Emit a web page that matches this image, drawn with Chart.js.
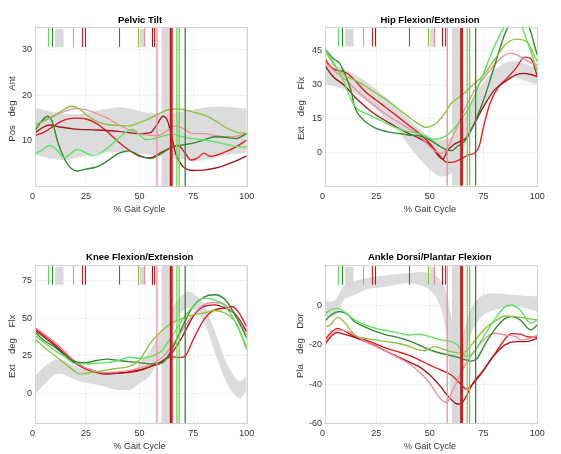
<!DOCTYPE html>
<html><head><meta charset="utf-8">
<script src="https://cdn.jsdelivr.net/npm/chart.js@4"></script>
<style>
body{margin:0;background:#fff;width:561px;height:454px;overflow:hidden;position:relative;}
canvas{position:absolute;}
</style>
</head><body>
<canvas id="c0" width="280" height="227" style="left:0;top:0"></canvas>
<canvas id="c1" width="281" height="227" style="left:280px;top:0"></canvas>
<canvas id="c2" width="280" height="227" style="left:0;top:227px"></canvas>
<canvas id="c3" width="281" height="227" style="left:280px;top:227px"></canvas>
<script>
// ---------- shared axis values ----------
const xTicks = [0, 25, 50, 75, 100];
const pelvisTicks = [10, 20, 30];
const hipTicks = [0, 15, 30, 45];
const kneeTicks = [0, 25, 50, 75];
const ankleTicks = [-60, -40, -20, 0];

// ---------- gait events (% gait cycle) ----------
const shortEventX = [7.2, 9.3, 19, 23, 24.6, 40.4, 49.1, 52.1, 55.8, 56.9];
const shortEventTrial = ['lightGreen','darkGreen','pink','red','darkRed','darkGreen','olive','pink','darkRed','red'];
const fullEventX = [58.1, 64.6, 65.0, 67.4, 68.5, 71.3];
const fullEventTrial = ['pink','darkRed','red','lightGreen','olive','darkGreen'];
const shortNormRanges = [[10.6, 14.5], [50.2, 52.1]];
const fullNormRanges = [[60.3, 64.6]];

// ---------- Pelvic tilt ----------
const pelvisBandUpper = [[1,17.3],[5,16.8],[10,16.3],[15,15.9],[20,15.8],[25,16.1],[30,16.6],[35,17.1],[40,17.4],[45,17.1],[50,16.5],[55,16.1],[60,16],[65,16.2],[70,16.4],[75,16.9],[80,17.3],[85,17.5],[90,17.5],[95,17.3],[100,17.1]];
const pelvisBandLower = [[1,7],[5,6.5],[10,6],[15,5.8],[20,6.2],[25,6.8],[30,7.3],[35,7.5],[40,7.5],[45,7.4],[50,7.3],[55,7],[60,6.5],[65,6.2],[70,6],[75,5.5],[80,5.8],[85,6.3],[90,6.9],[95,7.2],[100,7.4]];
const pelvisRed = [[1,11.2],[5,11.8],[10,13.3],[15,14.6],[20,15],[25,14.8],[30,13.8],[35,12],[40,9.8],[45,8],[50,6.6],[55,6.3],[60,7.5],[65,8.6],[68,9],[71,7.5],[74,5.8],[77,6.2],[80,7.3],[83,6.6],[86,6.9],[90,7.6],[95,8.7],[100,10.2]];
const pelvisDarkRed = [[1,11.7],[5,13],[8,13.5],[12,13.1],[20,12.6],[30,12.4],[40,12.1],[50,11.6],[55,11.8],[58,13.5],[61,15.4],[63,14.5],[65,11],[67,7],[70,4.5],[75,3.5],[80,3.6],[85,4],[90,4.7],[95,5.6],[100,6.7]];
const pelvisPink = [[1,13.3],[5,14.5],[10,15.5],[15,16.5],[20,17.1],[25,16.8],[30,16],[35,15],[40,13.6],[45,12.4],[50,11.6],[55,11.2],[58,11.1],[62,12],[67,13.3],[70,12.8],[75,11.6],[80,11.6],[85,11.2],[90,10.9],[95,11],[100,11.6]];
const pelvisDarkGreen = [[1,12],[3,13.5],[7,15.4],[9,14.5],[12,9.5],[15,6],[18,4],[21,3.4],[25,3.8],[30,4.3],[35,5.6],[40,7.2],[45,7.8],[50,6.8],[55,6.1],[60,7.2],[65,8.6],[70,9.1],[75,9.5],[80,10.2],[85,10.9],[90,10.8],[95,10.5],[100,11.6]];
const pelvisLightGreen = [[1,7.2],[4,7.8],[8,9],[11,8.2],[15,6.3],[18,7.3],[21,8.1],[24,7.6],[28,6.8],[32,7.4],[36,8.8],[40,10.5],[44,12],[47,12.5],[50,11.3],[53,10.3],[57,10.5],[62,11.2],[65,11.5],[70,10.9],[75,10.5],[80,10.2],[85,9.8],[90,9.3],[95,8.8],[100,8.6]];
const pelvisOlive = [[1,13.5],[5,14.3],[10,15.5],[15,17],[18,17.6],[22,17],[25,15.8],[30,14.3],[35,13.6],[40,13.4],[45,13.3],[50,14],[55,15],[60,16.2],[65,17],[70,16.9],[75,16.3],[80,15.7],[85,14.5],[90,13],[95,12],[100,11.6]];

// ---------- Hip flexion/extension ----------
const hipBandUpper = [[1,41],[5,39],[10,37],[15,34.5],[20,31.5],[25,28],[30,24],[35,19.5],[40,15],[45,10.5],[50,7],[55,5.5],[60,7],[65,13],[70,24],[75,31],[80,36.5],[85,39.5],[90,40.5],[95,39],[100,37]];
const hipBandLower = [[1,30],[5,29.5],[10,28],[15,26],[20,23],[25,19],[30,14.5],[35,9.5],[40,3.5],[45,-2.5],[50,-7.5],[55,-10.5],[60,-9],[65,0],[70,11],[75,20],[80,27],[85,31],[90,33],[95,31.5],[100,30]];
const hipRed = [[1,42],[3,38.7],[6,36.5],[9,36],[12,34.7],[15,32],[20,26.9],[25,23.2],[30,19.6],[35,15.9],[40,12.2],[45,8.5],[50,4.1],[55,-1.8],[58,-4.3],[61,-4.2],[65,-2.5],[68,-1],[71,0],[73,3],[75,11.5],[78,21.8],[82,29.1],[85,32],[90,37.2],[94,42.2],[97,41.5],[100,33.8]];
const hipDarkRed = [[1,38.7],[5,33.5],[10,29.9],[15,24.7],[20,20.3],[25,16.6],[30,13.7],[35,11],[40,8.5],[45,6.3],[50,3.4],[54,-1.5],[56,-3],[58,0.5],[61,3.5],[64,5],[67,6.5],[70,11.5],[75,20.3],[80,27.6],[85,31.3],[90,34.3],[93,35],[97,34.5],[100,33.5]];
const hipPink = [[1,40.1],[5,36.5],[10,32.8],[15,28.4],[20,24],[25,20.3],[30,16.6],[35,13.7],[40,10.7],[45,7.8],[50,2.6],[53,0.4],[55,-0.3],[58,1.9],[60,5.6],[63,12.2],[66,18.8],[70,26.2],[75,32.8],[80,38.7],[85,43.1],[88,43.8],[92,42.4],[96,40.1],[100,38.7]];
const hipDarkGreen = [[1,46],[5,41.6],[8,39.4],[10,35.7],[13,28.4],[15,20.3],[20,13.7],[25,10.7],[30,9.3],[35,8.5],[40,7.8],[45,7.4],[50,5.6],[55,2.6],[58,1.2],[60,0.9],[63,2.9],[66,4.9],[70,11.5],[75,23.2],[80,38],[85,52.6],[90,60],[95,58],[100,43.1]];
const hipLightGreen = [[1,46],[5,40.1],[10,31.3],[13,24],[16,19.5],[20,17.4],[25,15.1],[30,12.9],[35,10.7],[40,9.3],[45,8.5],[50,6.3],[53,5.9],[57,7.1],[60,9.3],[65,15.1],[70,23.2],[75,35],[80,46.8],[85,56],[90,60],[95,50],[100,36]];
const hipOlive = [[1,45.3],[5,39.4],[10,34.3],[15,32],[20,29.4],[25,26.2],[30,23.2],[35,19.6],[40,15.9],[45,12.5],[48,11.2],[50,11.5],[53,12.9],[57,17.4],[60,21.8],[65,25.4],[70,29.9],[75,34.3],[80,40.9],[85,47.5],[90,50.1],[95,49],[100,40.1]];

// ---------- Knee flexion/extension ----------
const kneeBandUpper = [[1,11],[5,17],[10,22],[13,22.5],[17,20],[20,17.8],[25,16],[30,14.4],[35,13],[40,12.2],[45,13.3],[50,20],[55,28.9],[60,42],[65,56.7],[70,65.6],[73,67.8],[77,64.4],[80,60],[85,42],[90,22],[95,10],[97,8],[100,12]];
const kneeBandLower = [[1,-1],[5,5],[10,12],[13,13],[17,11],[20,8.9],[25,7],[30,5.6],[35,3.8],[40,2.2],[45,2.2],[50,6.7],[55,12],[60,25.6],[65,42],[70,54.4],[73,57],[77,54],[80,48],[85,28],[90,9],[95,-2.2],[97,-3.3],[100,2.2]];
const kneeRed = [[1,43.3],[5,38.9],[10,33.3],[15,26.7],[20,21.1],[25,16.7],[30,14.4],[35,13.3],[40,13.3],[45,13.8],[50,15.1],[55,17.8],[60,20],[63,23.3],[65,24.4],[68,23.8],[71,24.4],[75,35.6],[80,48.9],[85,55.6],[90,56.7],[93,57.8],[96,54.4],[100,44.4]];
const kneeDarkRed = [[1,42.2],[5,37.8],[10,32.2],[15,25.6],[20,20],[25,16],[30,13.8],[35,12.7],[40,13.3],[45,14.4],[50,15.6],[55,17.8],[60,21.1],[65,26.7],[70,37.8],[75,51.1],[80,57.8],[85,58.9],[90,56.7],[95,52.2],[100,41.1]];
const kneePink = [[1,44],[5,40],[10,34.4],[15,27.8],[20,21.1],[25,16.7],[30,14.4],[35,13.8],[40,14.4],[45,15.1],[50,16.7],[55,18.9],[60,23.3],[65,31.1],[70,42.2],[75,52.2],[80,58.9],[85,60.4],[90,58.9],[95,51.1],[100,38.9]];
const kneeDarkGreen = [[1,41.1],[5,35.6],[10,31.1],[15,25.6],[20,21.1],[25,20.4],[30,21.8],[35,22.7],[40,21.8],[45,21.1],[50,20.4],[55,19.6],[60,20],[65,28.9],[70,44.4],[75,57.8],[80,64],[85,65.6],[90,62.2],[95,51.1],[100,36.7]];
const kneeLightGreen = [[1,38.9],[5,34.4],[10,28.9],[15,24.4],[20,19.6],[25,19.6],[30,20],[35,20.4],[40,21.8],[45,24],[50,23.3],[55,24.4],[60,27.8],[65,37.8],[70,48.9],[75,57.8],[80,63.3],[85,62.2],[90,57.8],[95,46.7],[100,31.1]];
const kneeOlive = [[1,36.7],[5,31.1],[10,25.6],[15,20],[20,14.4],[22,12.7],[25,13.3],[30,14.4],[35,15.6],[40,16.7],[45,17.8],[50,22.2],[55,33.3],[60,41.1],[65,46.7],[70,50],[75,52.2],[80,53.3],[85,55.1],[90,53.3],[95,46.7],[100,28.9]];

// ---------- Ankle dorsi/plantar flexion ----------
const ankleBandUpper = [[1,4],[3,2],[6,3],[10,10],[15,12.5],[20,13.9],[30,15.6],[40,16.5],[45,17.3],[50,16.5],[53,15],[55,13],[57,9],[58.5,3],[60,-6],[62,-14],[64,-18],[66,-12],[68,-5],[70,0.3],[75,5.4],[80,6.3],[90,5.4],[100,4.6]];
const ankleBandLower = [[1,-3.9],[3,-6],[6,-5],[10,2.9],[15,5.4],[20,8],[30,9.7],[40,11.4],[45,10.5],[50,8],[53,4],[55,-1],[57,-10],[58.5,-25],[60,-50],[62,-60],[64,-52],[66,-32],[68,-19],[70,-12.4],[75,-4.8],[80,-2.2],[90,-0.5],[100,-3.1]];
const ankleRed = [[1,-17.5],[4,-13.8],[7,-11.6],[10,-12.8],[15,-15.8],[20,-17.5],[25,-19.6],[30,-21.8],[35,-23.5],[40,-25.2],[45,-27.7],[50,-30.3],[55,-32.8],[60,-35.4],[64,-39.6],[67,-42.5],[70,-40],[75,-33],[80,-25],[85,-17],[88,-14.3],[92,-14.5],[96,-16],[100,-16]];
const ankleDarkRed = [[1,-20],[4,-15.8],[7,-13.8],[10,-14.5],[15,-16.2],[20,-18.4],[25,-20.6],[30,-23.5],[35,-26],[40,-28.6],[45,-31.1],[50,-35.4],[55,-41.3],[58,-45.6],[62,-49.8],[64,-50.2],[66,-48.1],[68,-43.9],[70,-39.6],[75,-32.8],[80,-25.2],[85,-20],[90,-18.4],[95,-18.4],[100,-16.7]];
const anklePink = [[1,-18.4],[4,-15],[8,-12.4],[12,-13.3],[15,-15],[20,-18.4],[25,-20.9],[30,-23.5],[35,-26.4],[40,-29.4],[45,-33.7],[50,-39.6],[53,-44.7],[56,-48.6],[58,-49.3],[60,-44.7],[63,-37.9],[66,-31.1],[70,-24.3],[75,-17.5],[80,-14.1],[85,-15],[90,-15.8],[93,-17.5],[97,-16.5],[100,-15]];
const ankleDarkGreen = [[1,-8.2],[4,-4.8],[8,-3.1],[12,-4.8],[15,-8.2],[20,-11],[25,-13.3],[30,-15],[35,-16.2],[40,-17.9],[45,-20.1],[50,-22.6],[55,-24.3],[60,-25.5],[65,-27],[69,-28.3],[72,-27],[75,-21],[80,-12.4],[85,-6.5],[88,-5.6],[92,-7.3],[97,-12.4],[100,-9.9]];
const ankleLightGreen = [[1,-4.8],[3,-2.6],[7,-1.4],[10,-3.1],[15,-7.3],[20,-9.9],[25,-11.6],[30,-12.8],[35,-13.8],[40,-15],[45,-14.6],[50,-15.8],[55,-17.5],[60,-18.4],[63,-20.1],[65,-23.5],[67,-26],[70,-24.3],[75,-15.8],[80,-7.3],[85,-0.5],[88,0.3],[92,-2.2],[97,-9],[100,-7.3]];
const ankleOlive = [[1,-10.7],[3,-10.4],[7,-6],[10,-8.2],[13,-12.4],[15,-15],[20,-16.7],[25,-17.5],[30,-18.4],[35,-19.2],[40,-20.6],[45,-22.6],[48,-23],[50,-21.8],[52,-20.9],[55,-21.8],[60,-23.5],[65,-24.3],[70,-19.2],[75,-12.4],[80,-8.2],[85,-5.3],[90,-5.6],[95,-6.5],[100,-7.3]];

// ---------- styles ----------
const trialColor = {red:'#e31a1c', darkRed:'#a3161c', pink:'#f28c9c', darkGreen:'#2b8a2b', lightGreen:'#5ae35a', olive:'#8ac33e'};
const FONT = '"Liberation Sans", Arial, Helvetica, sans-serif';

const panels = [
  {id:'c0', title:'Pelvic Tilt', words:['Pos','deg','Ant'], yMin:0.1, yMax:35, yTicks:pelvisTicks,
   band:[pelvisBandUpper,pelvisBandLower],
   trials:{lightGreen:pelvisLightGreen, olive:pelvisOlive, darkGreen:pelvisDarkGreen, pink:pelvisPink, darkRed:pelvisDarkRed, red:pelvisRed},
   lay:{yw:35, pr:33.3, pt:27, xh:41, tx:140, ty:20, xtx:139.5, xty:210, ytx:12.7}},
  {id:'c1', title:'Hip Flexion/Extension', words:['Ext','deg','Flx'], yMin:-14.6, yMax:55.6, yTicks:hipTicks,
   band:[hipBandUpper,hipBandLower],
   trials:{lightGreen:hipLightGreen, olive:hipOlive, darkGreen:hipDarkGreen, pink:hipPink, darkRed:hipDarkRed, red:hipRed},
   lay:{yw:45, pr:23.7, pt:26.7, xh:41.3, tx:150, ty:20, xtx:150, xty:210, ytx:21.7}},
  {id:'c2', title:'Knee Flexion/Extension', words:['Ext','deg','Flx'], yMin:-20, yMax:85.4, yTicks:kneeTicks,
   band:[kneeBandUpper,kneeBandLower],
   trials:{lightGreen:kneeLightGreen, olive:kneeOlive, darkGreen:kneeDarkGreen, pink:kneePink, darkRed:kneeDarkRed, red:kneeRed},
   lay:{yw:35, pr:33.3, pt:38, xh:30.7, tx:139.7, ty:30.3, xtx:139.5, xty:219.7, ytx:12.7}},
  {id:'c3', title:'Ankle Dorsi/Plantar Flexion', words:['Pla','deg','Dor'], yMin:-60, yMax:20.7, yTicks:ankleTicks,
   band:[ankleBandUpper,ankleBandLower],
   trials:{lightGreen:ankleLightGreen, olive:ankleOlive, darkGreen:ankleDarkGreen, pink:anklePink, darkRed:ankleDarkRed, red:ankleRed},
   lay:{yw:45, pr:23.7, pt:38, xh:30.7, tx:149.7, ty:30.3, xtx:150, xty:219.7, ytx:20.7}}
];

const toXY = a => a.map(p => ({x:p[0], y:p[1]}));

const decor = {
  id:'decor',
  beforeDatasetsDraw(chart){
    const {ctx, chartArea:a, scales:{x}} = chart;
    ctx.save();
    ctx.beginPath(); ctx.rect(a.left, a.top, a.right-a.left, a.bottom-a.top); ctx.clip();
    ctx.fillStyle = '#d9d9d9';
    const shortH = (a.bottom - a.top) * 0.125;
    shortNormRanges.forEach(r => {
      const x0 = x.getPixelForValue(r[0]), x1 = x.getPixelForValue(r[1]);
      ctx.fillRect(x0, a.top + 2, x1 - x0, shortH - 2);
    });
    fullNormRanges.forEach(r => {
      const x0 = x.getPixelForValue(r[0]), x1 = x.getPixelForValue(r[1]);
      ctx.fillRect(x0, a.top, x1 - x0, a.bottom - a.top);
    });
    ctx.restore();
  },
  afterDatasetsDraw(chart){
    const {ctx, chartArea:a, scales:{x}} = chart;
    ctx.save();
    ctx.beginPath(); ctx.rect(a.left, a.top, a.right-a.left, a.bottom-a.top); ctx.clip();
    const shortH = (a.bottom - a.top) * 0.125;
    shortEventX.forEach((v, i) => {
      const px = Math.round(x.getPixelForValue(v)) + 0.5;
      ctx.strokeStyle = trialColor[shortEventTrial[i]]; ctx.lineWidth = 1.1;
      ctx.beginPath(); ctx.moveTo(px, a.top); ctx.lineTo(px, a.top + shortH); ctx.stroke();
    });
    fullEventX.forEach((v, i) => {
      const t = fullEventTrial[i];
      const px = x.getPixelForValue(v);
      ctx.strokeStyle = trialColor[t];
      ctx.lineWidth = (t === 'red' || t === 'darkRed') ? 2 : 1.3;
      ctx.beginPath(); ctx.moveTo(px, a.top); ctx.lineTo(px, a.bottom); ctx.stroke();
    });
    ctx.restore();
  },
  afterDraw(chart){
    const {ctx, chartArea:a} = chart;
    const p = chart.options.plugins.decor;
    ctx.save();
    ctx.strokeStyle = '#d2d2d2'; ctx.lineWidth = 1;
    ctx.strokeRect(Math.round(a.left)+0.5, Math.round(a.top)+0.5, Math.round(a.right-a.left), Math.round(a.bottom-a.top));
    ctx.fillStyle = '#000';
    ctx.textAlign = 'center'; ctx.textBaseline = 'middle';
    ctx.font = 'bold 9.5px ' + FONT;
    ctx.fillText(p.title, p.tx, p.ty);
    ctx.fillStyle = '#333';
    ctx.font = '9px ' + FONT;
    ctx.fillText('% Gait Cycle', p.xtx, p.xty);
    const cy = (a.top + a.bottom) / 2 + 2;
    ctx.translate(p.ytx, cy);
    ctx.rotate(-Math.PI / 2);
    ctx.font = '9.5px ' + FONT;
    ctx.fillText(p.words[0], -25, 0);
    ctx.fillText(p.words[1], 0, 0);
    ctx.fillText(p.words[2], 25, 0);
    ctx.restore();
  }
};

panels.forEach(pn => {
  const ds = [];
  ds.push({data: toXY(pn.band[0]), borderWidth:0, pointRadius:0, backgroundColor:'#dcdcdc', fill:1, order:10, tension:0.4, cubicInterpolationMode:'monotone'});
  ds.push({data: toXY(pn.band[1]), borderWidth:0, pointRadius:0, backgroundColor:'#dcdcdc', fill:false, order:10, tension:0.4, cubicInterpolationMode:'monotone'});
  Object.keys(pn.trials).forEach(k => {
    ds.push({data: toXY(pn.trials[k]), borderColor: trialColor[k], borderWidth:1.35, pointRadius:0, fill:false, order:1, cubicInterpolationMode:'monotone'});
  });
  const L = pn.lay;
  new Chart(document.getElementById(pn.id), {
    type:'line',
    data:{datasets: ds},
    plugins:[decor],
    options:{
      responsive:false, animation:false, devicePixelRatio:1,
      layout:{padding:{left:0, right:L.pr, top:L.pt, bottom:0}},
      plugins:{
        legend:{display:false}, tooltip:{enabled:false},
        filler:{drawTime:'beforeDatasetsDraw'},
        decor:{title:pn.title, words:pn.words, tx:L.tx, ty:L.ty, xtx:L.xtx, xty:L.xty, ytx:L.ytx}
      },
      scales:{
        x:{type:'linear', min:1.2, max:100,
           afterBuildTicks: s => { s.ticks = xTicks.map(v => ({value:v})); },
           afterFit: s => { s.height = L.xh; },
           grid:{color: c => (c.tick && c.tick.value === 0) ? 'rgba(0,0,0,0)' : '#f1f1f1', drawTicks:false},
           border:{display:false},
           ticks:{padding:5, color:'#333', font:{family:FONT, size:9}, autoSkip:false, maxRotation:0}},
        y:{type:'linear', min:pn.yMin, max:pn.yMax,
           afterBuildTicks: s => { s.ticks = pn.yTicks.map(v => ({value:v})); },
           afterFit: s => { s.width = L.yw; },
           grid:{color:'#f1f1f1', drawTicks:false},
           border:{display:false},
           ticks:{padding:3, color:'#333', font:{family:FONT, size:9}, autoSkip:false}}
      }
    }
  });
});
</script>
</body></html>
